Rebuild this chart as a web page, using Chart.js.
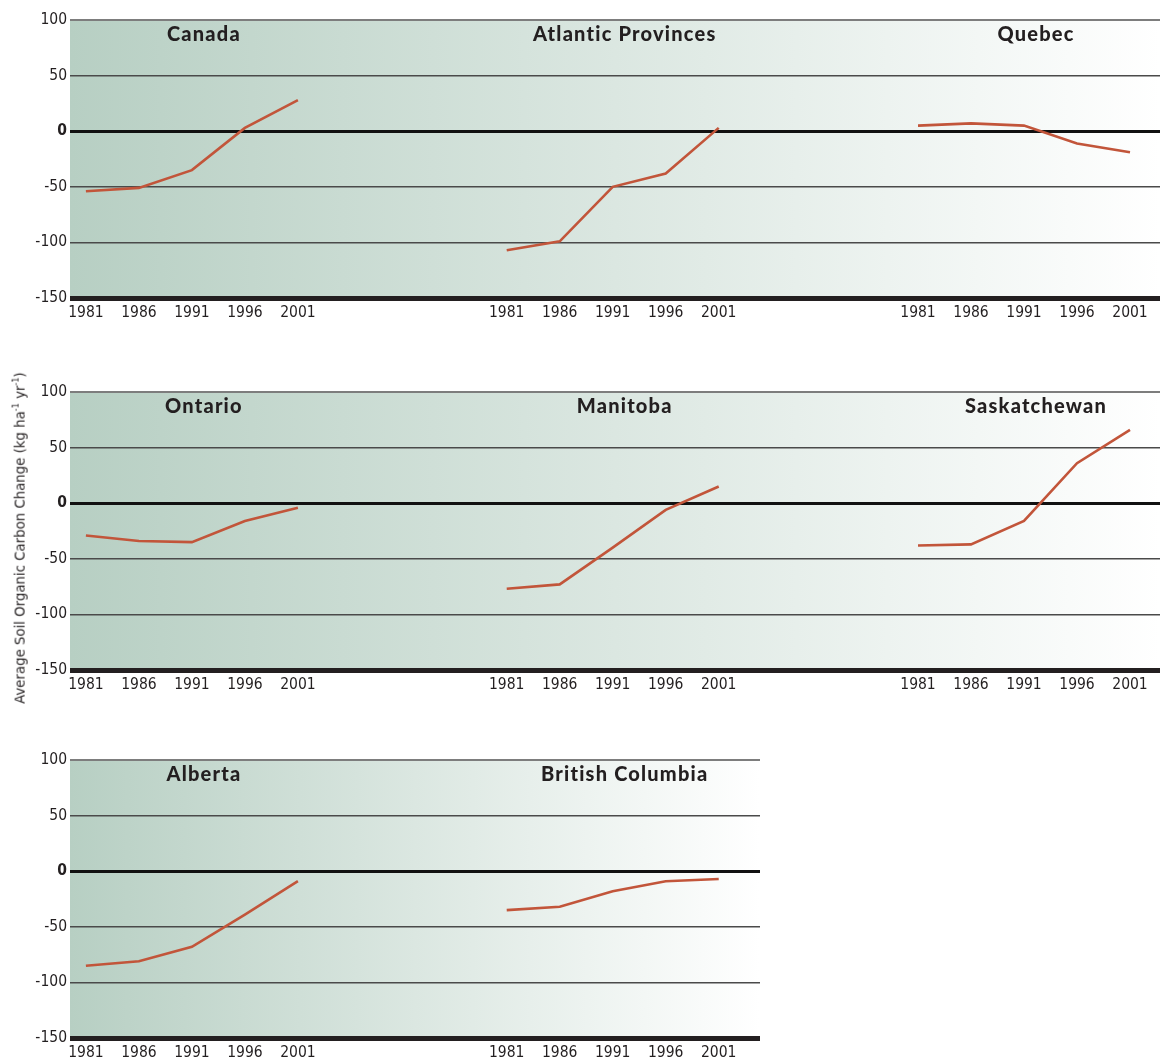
<!DOCTYPE html>
<html>
<head>
<meta charset="utf-8">
<script src="https://cdn.jsdelivr.net/npm/chart.js@4.4.1/dist/chart.umd.min.js"></script>
<style>
  html, body { margin: 0; padding: 0; background: #ffffff; }
  body { width: 1160px; height: 1063px; overflow: hidden; position: relative; }
  canvas.row { position: absolute; left: 0; }
  #ytitle {
    position: absolute; left: 20px; top: 538px;
    transform: translate(-50%, -50%) rotate(-90deg);
    white-space: nowrap; font-family: 'Liberation Sans Narrow', 'DejaVu Sans Condensed', sans-serif;
    font-weight: normal;
    font-size: 14.8px; color: #231f20; line-height: 1;
  }
  #ytitle sup { font-size: 9px; vertical-align: 6px; line-height: 0; }
</style>
</head>
<body>
<canvas id="row1" class="row" width="1160" height="330" style="top:0px"></canvas>
<canvas id="row2" class="row" width="1160" height="330" style="top:372px"></canvas>
<canvas id="row3" class="row" width="760" height="330" style="top:740px"></canvas>
<div id="ytitle">Average Soil Organic Carbon Change (kg ha<sup>-1</sup> yr<sup>-1</sup>)</div>
<script>
// Census years shared by every region
const years = [1981, 1986, 1991, 1996, 2001];
// Value axis ticks (kg ha-1 yr-1)
const yTicks = [100, 50, 0, -50, -100, -150];

// Average soil organic carbon change by region
const canada          = [-54, -51, -35, 3, 28];
const atlantic        = [-107, -99, -50, -38, 3];
const quebec          = [5, 7, 5, -11, -19];
const ontario         = [-29, -34, -35, -16, -4];
const manitoba        = [-77, -73, -40, -6, 15];
const saskatchewan    = [-38, -37, -16, 36, 66];
const alberta         = [-85, -81, -68, -39, -9];
const britishColumbia = [-35, -32, -18, -9, -7];

const rowNames = [
  ['Canada', 'Atlantic Provinces', 'Quebec'],
  ['Ontario', 'Manitoba', 'Saskatchewan'],
  ['Alberta', 'British Columbia']
];
const rowValues = [
  [canada, atlantic, quebec],
  [ontario, manitoba, saskatchewan],
  [alberta, britishColumbia]
];

// Horizontal layout (in years of axis space): each panel occupies a slot on one shared axis
const PX_PER_YEAR = 10.6;
const SLOT_START = [1.5, 41.2, 80.0];
const Y_AXIS_WIDTH = 70;

const TEXT = '#231f20';
const LINE = '#c2553a';
const NARROW = "'DejaVu Sans Condensed', 'DejaVu Sans', sans-serif";

const bgPlugin = {
  id: 'panelBackground',
  beforeDraw(chart) {
    const a = chart.chartArea, ctx = chart.ctx;
    const g = ctx.createLinearGradient(a.left, 0, a.right, 0);
    g.addColorStop(0, '#b7cfc3');
    g.addColorStop(1, '#ffffff');
    ctx.save();
    ctx.fillStyle = g;
    ctx.fillRect(a.left, a.top, a.right - a.left, a.bottom - a.top);
    ctx.restore();
  }
};

const titlePlugin = {
  id: 'panelTitles',
  afterDatasetsDraw(chart) {
    const xs = chart.scales.x, ctx = chart.ctx, a = chart.chartArea;
    ctx.save();
    ctx.font = "900 20px Lato, 'Open Sans', sans-serif";
    ctx.letterSpacing = '1.2px';
    ctx.fillStyle = TEXT;
    ctx.textAlign = 'center';
    ctx.textBaseline = 'middle';
    chart.data.datasets.forEach(ds => {
      const first = xs.getPixelForValue(ds.data[0].x);
      const last = xs.getPixelForValue(ds.data[ds.data.length - 1].x);
      ctx.fillText(ds.label, (first + last) / 2 + 12, a.top + 15);
    });
    ctx.restore();
  }
};

function makeRow(canvasId, names, values) {
  const canvas = document.getElementById(canvasId);
  const areaWidth = canvas.width - Y_AXIS_WIDTH;
  const datasets = names.map((name, g) => ({
    label: name,
    data: years.map((yr, i) => ({ x: SLOT_START[g] + (yr - years[0]), y: values[g][i] })),
    borderColor: LINE,
    borderWidth: 2.6,
    pointRadius: 0,
    tension: 0,
    fill: false
  }));
  const tickPositions = datasets.flatMap(ds => ds.data.map(p => p.x));

  return new Chart(canvas, {
    type: 'line',
    data: { datasets },
    plugins: [bgPlugin, titlePlugin],
    options: {
      responsive: false,
      animation: false,
      devicePixelRatio: 1,
      layout: { padding: { top: 20, right: 0, left: 0, bottom: 0 } },
      plugins: { legend: { display: false }, tooltip: { enabled: false } },
      scales: {
        x: {
          type: 'linear',
          min: 0,
          max: areaWidth / PX_PER_YEAR,
          afterBuildTicks(scale) { scale.ticks = tickPositions.map(v => ({ value: v })); },
          afterFit(scale) { scale.height = 32; },
          grid: { display: false, drawTicks: false },
          border: { display: false },
          ticks: {
            autoSkip: false, maxRotation: 0, minRotation: 0, padding: 6,
            color: TEXT,
            font: { family: NARROW, size: 15.5 },
            callback: (v, i) => String(years[i % years.length])
          }
        },
        y: {
          min: -150, max: 100,
          afterBuildTicks(scale) { scale.ticks = yTicks.map(v => ({ value: v })); },
          afterFit(scale) { scale.width = Y_AXIS_WIDTH; },
          border: { display: false },
          grid: {
            drawTicks: false,
            color: c => c.tick.value === 0 ? '#111111' : c.tick.value === -150 ? '#231f20' : c.tick.value === 100 ? '#7d7d7d' : '#4a4a4a',
            lineWidth: c => c.tick.value === 0 ? 3 : c.tick.value === -150 ? 5 : c.tick.value === 100 ? 2 : 1.5
          },
          ticks: {
            padding: 3,
            color: TEXT,
            font: c => ({ family: NARROW, size: 15.5, weight: c.tick && c.tick.value === 0 ? 'bold' : 'normal' }),
            callback: v => String(v)
          }
        }
      }
    }
  });
}

makeRow('row1', rowNames[0], rowValues[0]);
makeRow('row2', rowNames[1], rowValues[1]);
makeRow('row3', rowNames[2], rowValues[2]);
</script>
</body>
</html>
